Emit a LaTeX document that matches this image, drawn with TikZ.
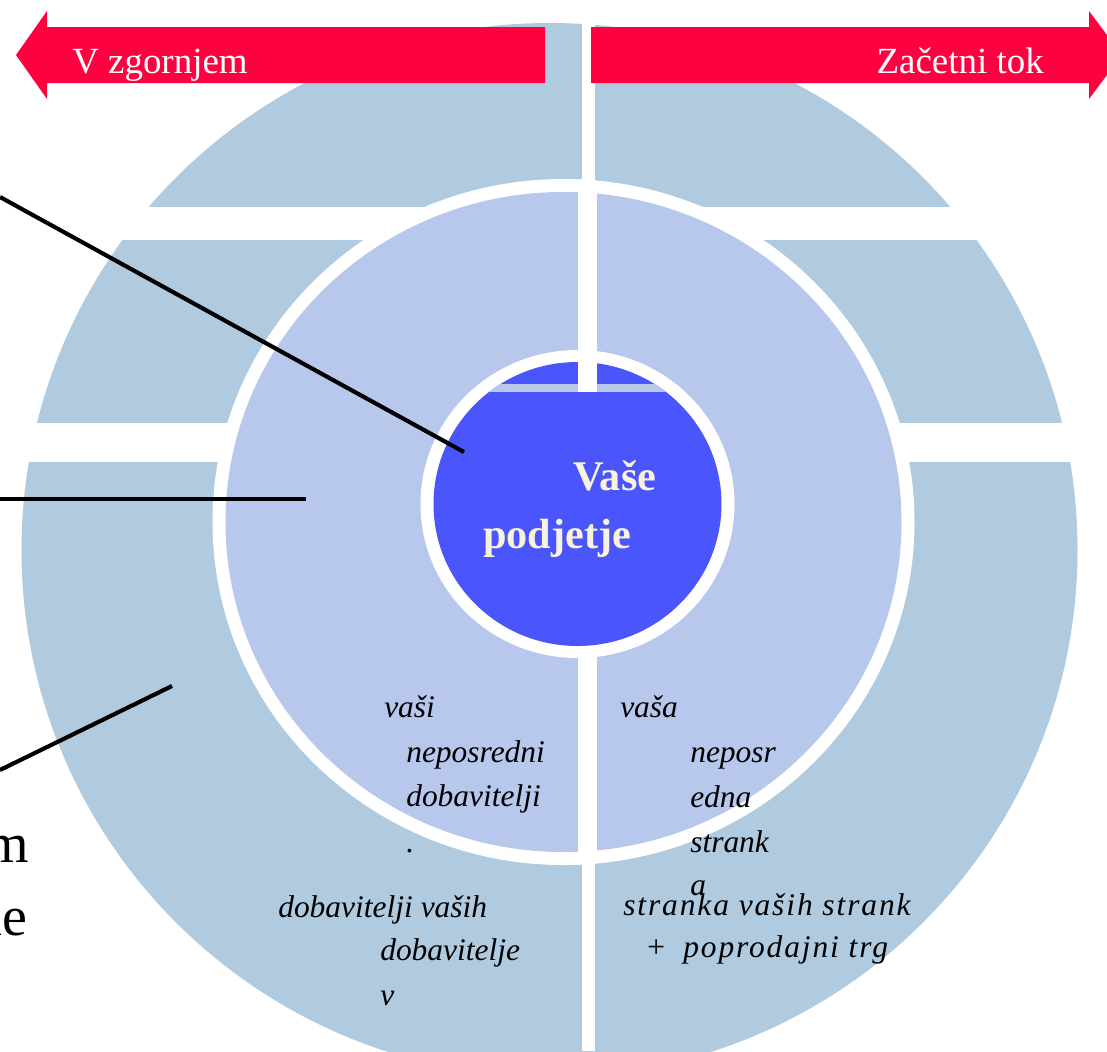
\documentclass[tikz,border=0pt]{standalone}
\usepackage{fontspec}
\setmainfont{Liberation Serif}

\definecolor{ringblue}{HTML}{B0CBDF}
\definecolor{lavender}{HTML}{B8C8EC}
\definecolor{coreblue}{HTML}{4B55FC}
\definecolor{flowred}{HTML}{FF0040}
\definecolor{cream}{HTML}{F7F3DF}

\tikzset{
  txt/.style={inner sep=0pt, anchor=base west},
  flowlabel/.style={inner sep=0pt, text=white, font=\fontsize{27.7}{33}\selectfont},
  ringtext/.style={txt, font=\itshape\fontsize{23.6}{28}\selectfont},
  spaced/.style={txt, font=\itshape\fontsize{23.6}{28}\selectfont\addfontfeature{LetterSpace=6}},
  coretext/.style={txt, text=cream, font=\bfseries\fontsize{31.7}{38}\selectfont},
  sidetext/.style={inner sep=0pt, anchor=base east, font=\fontsize{42}{50}\selectfont},
  pointer/.style={line width=3.1pt, black}
}

\begin{document}
\begin{tikzpicture}[x=0.75pt, y=-0.75pt]
\useasboundingbox (0,0) rectangle (1107,1051);
\clip (0,0) rectangle (1107,1051);

% outer ring, cut into six pieces by white bands
\fill[ringblue] (549.5,550) ellipse [x radius=528, y radius=527];
\fill[white] (0,207) rectangle (1107,240);
\fill[white] (0,423) rectangle (1107,462);
\fill[white] (582,0) rectangle (595,1051);

% middle ring, two halves with a white rim
\fill[white] (563.5,522) ellipse [x radius=351, y radius=343];
\fill[lavender] (563.5,522) ellipse [x radius=338, y radius=330];
\begin{scope}
  \clip (563.5,522) ellipse [x radius=351, y radius=343];
  \fill[white] (578,150) rectangle (597,900);
\end{scope}

% the company at the core
\fill[white] (577.5,504) ellipse [x radius=157, y radius=154];
\fill[coreblue] (577.5,504) ellipse [x radius=144, y radius=142];
\begin{scope}
  \clip (577.5,504) ellipse [x radius=144, y radius=142];
  \fill[lavender] (400,384) rectangle (760,392);
\end{scope}
\fill[white] (578,345) rectangle (597,392);

% flow arrows
\fill[flowred] (16,55) -- (47,11) -- (47,27) -- (545,27) -- (545,83)
  -- (47,83) -- (47,99) -- cycle;
\fill[flowred] (591,27) -- (1089,27) -- (1089,11) -- (1122,55)
  -- (1089,99) -- (1089,83) -- (591,83) -- cycle;
\node[flowlabel, anchor=base west] (upstream) at (72,73) {V zgornjem};
\node[flowlabel, anchor=base east] (initial) at (1044,73) {Začetni tok};

% core label
\node[coretext] (core1) at (573,490) {Vaše};
\node[coretext] (core2) at (483,548) {podjetje};

% direct suppliers
\node[ringtext] (ds1) at (384,717) {vaši};
\node[ringtext] (ds2) at (406,762) {neposredni};
\node[ringtext] (ds3) at (406,806) {dobavitelji};
\node[ringtext] (ds4) at (406,852) {.};

% suppliers of suppliers
\node[ringtext] (ss1) at (278,917) {dobavitelji vaših};
\node[ringtext] (ss2) at (380,960) {dobavitelje};
\node[ringtext] (ss3) at (380,1005) {v};

% direct customer
\node[ringtext] (dc1) at (620,717) {vaša};
\node[ringtext] (dc2) at (690,762) {neposr};
\node[ringtext] (dc3) at (690,807) {edna};
\node[ringtext] (dc4) at (690,852) {strank};
\node[ringtext] (dc5) at (690,895) {a};

% customers of customers
\node[spaced] (cc1) at (623,915) {stranka vaših strank};
\node[txt, font=\fontsize{23.6}{28}\selectfont] (plus) at (647,957) {+};
\node[spaced] (cc2) at (683,957) {poprodajni trg};

% side labels running off the left edge
\node[sidetext] (side1) at (29,862) {m};
\node[sidetext] (side2) at (28,935) {ne};

% pointer lines
\coordinate (p1a) at (0,197);
\coordinate (p1b) at (464,452);
\coordinate (p2a) at (0,499);
\coordinate (p2b) at (306,499);
\coordinate (p3a) at (0,770);
\coordinate (p3b) at (172,686);
\draw[pointer] (p1a) -- (p1b);
\draw[pointer] (p2a) -- (p2b);
\draw[pointer] (p3a) -- (p3b);
\end{tikzpicture}
\end{document}
